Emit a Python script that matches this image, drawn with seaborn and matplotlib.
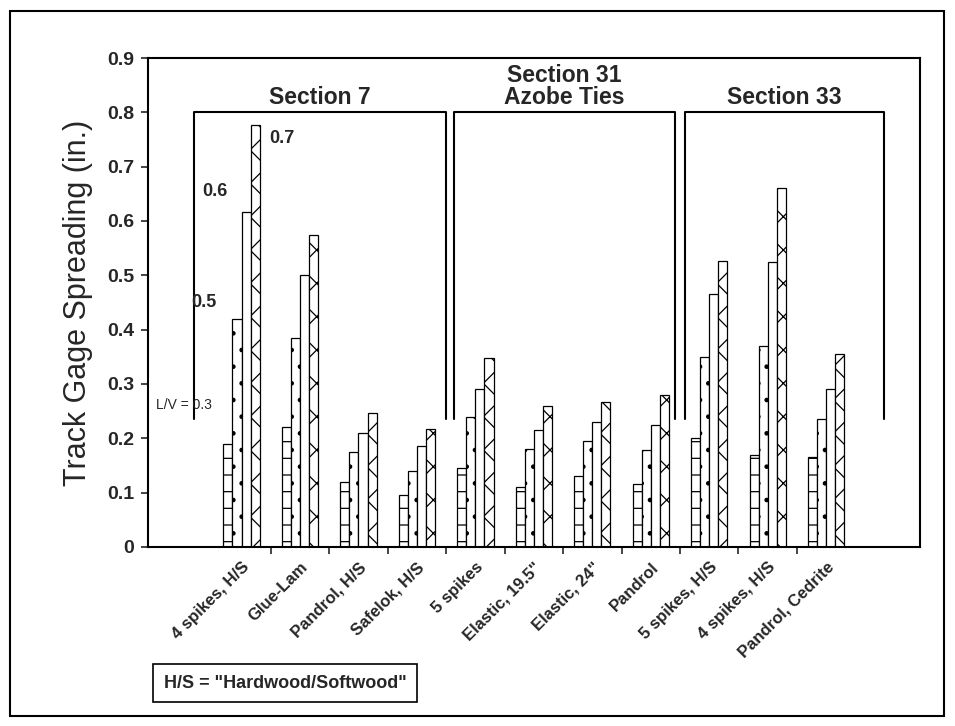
##########################################
# Track gage spreading by fastener / tie type, four L/V levels
##########################################
import numpy as np
import pandas as pd
import seaborn as sns
import matplotlib.pyplot as plt
from matplotlib.patches import Rectangle

# categories on the x axis (10th one repeats the 1st, so keep an id per group)
tests = ["4 spikes, H/S", "Glue-Lam", "Pandrol, H/S", "Safelok, H/S", "5 spikes",
         'Elastic, 19.5"', 'Elastic, 24"', "Pandrol", "5 spikes, H/S",
         "4 spikes, H/S", "Pandrol, Cedrite"]
lv_levels = ["0.3", "0.5", "0.6", "0.7"]

# spreading (in.), one list per L/V level
lv03 = [0.19, 0.22, 0.12, 0.095, 0.145, 0.11, 0.13, 0.115, 0.20, 0.17, 0.165]
lv05 = [0.42, 0.385, 0.175, 0.14, 0.24, 0.18, 0.195, 0.178, 0.35, 0.37, 0.235]
lv06 = [0.617, 0.50, 0.21, 0.185, 0.29, 0.215, 0.23, 0.225, 0.465, 0.525, 0.29]
lv07 = [0.777, 0.575, 0.247, 0.218, 0.348, 0.26, 0.267, 0.28, 0.527, 0.66, 0.355]

rows = []
for lv, vals in zip(lv_levels, [lv03, lv05, lv06, lv07]):
    for i, v in enumerate(vals):
        rows.append({"group": i, "lv": lv, "spread": v})
df = pd.DataFrame(rows)

sns.set_style("ticks")
plt.rcParams['font.family'] = ['Liberation Sans', 'DejaVu Sans']
plt.rcParams['hatch.linewidth'] = 0.9

fig = plt.figure(figsize=(9.55, 7.26), dpi=100)
ax = fig.add_axes([0.155, 0.2466, 0.808, 0.6735])

sns.barplot(data=df, x="group", y="spread", hue="lv", hue_order=lv_levels,
            palette=["white"] * 4, edgecolor="black", linewidth=0.9,
            width=0.62, errorbar=None, legend=False, ax=ax)

hatches = ["-", ".", "", "x"]
for cont, h in zip(ax.containers, hatches):
    for bar in cont:
        bar.set_hatch(h)

# axes
ax.set_xlim(-1.6, 11.6)
ax.set_ylim(0, 0.9)
ax.set_yticks(np.arange(0, 0.91, 0.1))
ax.set_yticklabels(["0"] + ["%.1f" % t for t in np.arange(0.1, 0.91, 0.1)],
                   fontsize=14, fontweight="bold")
ax.set_xticks(range(len(tests)))
ax.set_xticklabels(tests, rotation=45, ha="right", rotation_mode="anchor",
                   fontsize=12, fontweight="bold")
ax.set_xticks(np.arange(0.5, 10.0, 1.0), minor=True)
ax.tick_params(axis="x", which="major", length=0, pad=9)
ax.tick_params(axis="x", which="minor", length=5, width=1.2, direction="out")
ax.tick_params(axis="y", length=5, width=1.2, direction="out", pad=5)
ax.set_xlabel("")
ax.set_ylabel("Track Gage Spreading (in.)", fontsize=22, labelpad=10)
for s in ax.spines.values():
    s.set_visible(True)
    s.set_linewidth(1.5)
    s.set_color("black")

# section brackets
sections = [(-0.82, 3.5, "Section 7"),
            (3.64, 7.41, "Section 31\nAzobe Ties"),
            (7.58, 10.99, "Section 33")]
for x0, x1, name in sections:
    ax.plot([x0, x0, x1, x1], [0.235, 0.8, 0.8, 0.235], color="black", lw=1.5)
    ax.text((x0 + x1) / 2, 0.806, name, ha="center", va="bottom",
            fontsize=16.5, fontweight="bold", linespacing=0.95)

# L/V labels on the first group
ax.text(-1.46, 0.262, "L/V = 0.3", fontsize=10, ha="left", va="center")
ax.text(-0.65, 0.45, "0.5", fontsize=13, fontweight="bold", ha="center", va="center")
ax.text(-0.46, 0.655, "0.6", fontsize=13, fontweight="bold", ha="center", va="center")
ax.text(0.69, 0.752, "0.7", fontsize=13, fontweight="bold", ha="center", va="center")

# note box
fig.text(285 / 955, 1 - 683 / 726, 'H/S = "Hardwood/Softwood"', fontsize=13,
         fontweight="bold", ha="center", va="center",
         bbox=dict(boxstyle="square,pad=0.6", fc="white", ec="black", lw=1.2))

# outer frame
fig.patches.append(Rectangle((10 / 955, 1 - 716 / 726), 934 / 955, 705 / 726,
                             transform=fig.transFigure, fill=False, ec="black", lw=1.5))

fig.savefig("out.png", dpi=100)
